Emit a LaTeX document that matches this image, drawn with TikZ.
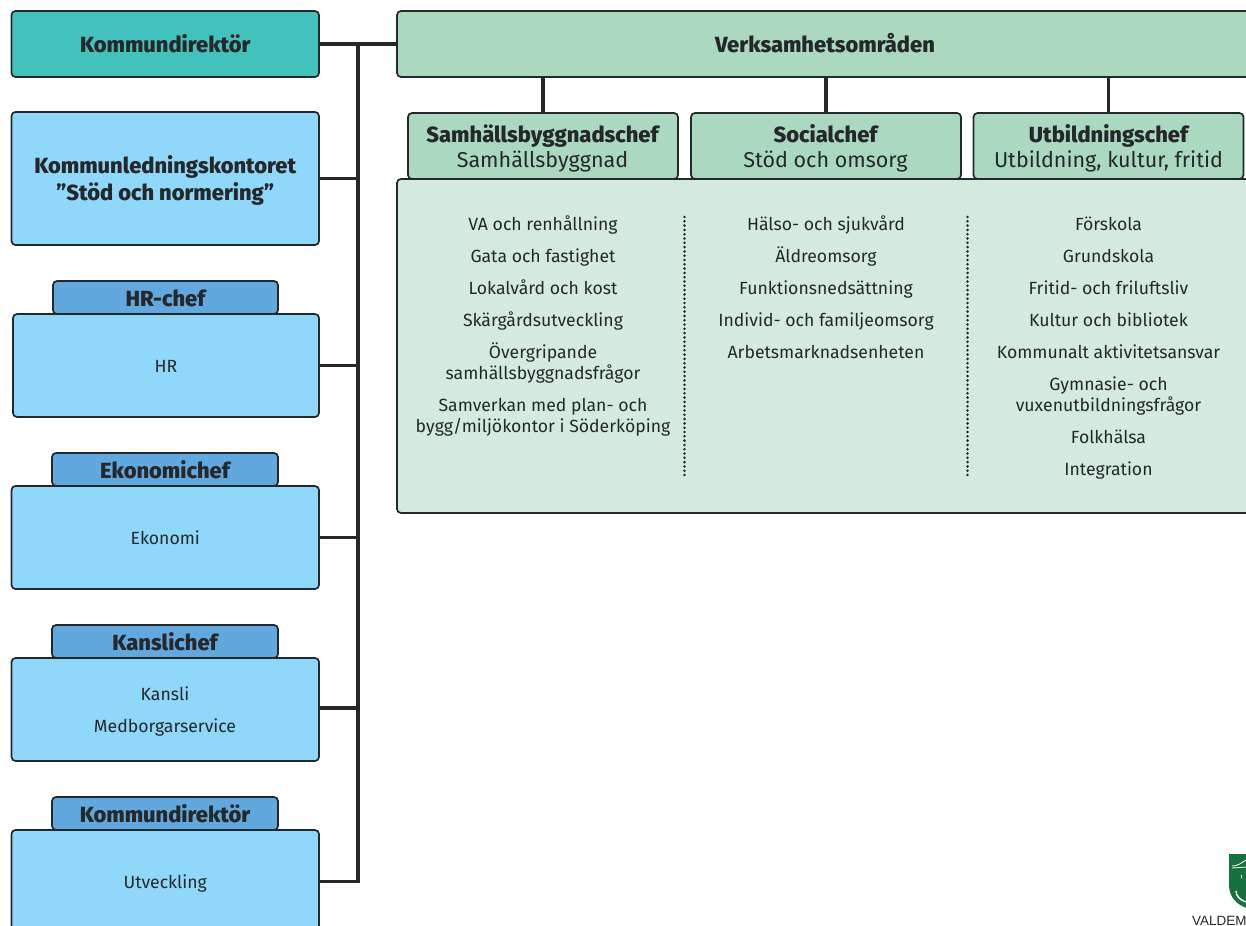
\documentclass[tikz,border=0pt]{standalone}
\usepackage{fontspec}
\setmainfont[BoldFont={Fira Sans ExtraBold}]{Fira Sans}
\newfontfamily\logofont{Liberation Sans}
\definecolor{ink}{HTML}{25282A}
\definecolor{teal}{HTML}{43C1BC}
\definecolor{sky}{HTML}{8FD8FA}
\definecolor{tabblue}{HTML}{61A8DE}
\definecolor{midgreen}{HTML}{ABD9BF}
\definecolor{palegreen}{HTML}{D4EADE}
\definecolor{shield}{HTML}{17703F}
\newcommand{\st}{\vphantom{Åg}}
\tikzset{
  x=1bp,y=-1bp,
  wh/.style 2 args={minimum width=#1bp,minimum height=#2bp},
  boxbase/.style={draw=ink,line width=1.7bp,rounded corners=4bp,inner sep=0pt,text=ink,align=center},
  kdbox/.style={boxbase,fill=teal},
  bluebox/.style={boxbase,fill=sky},
  bluetab/.style={boxbase,fill=tabblue},
  greenbox/.style={boxbase,fill=midgreen},
  palebox/.style={boxbase,fill=palegreen},
  head/.style={font=\fontsize{22}{26}\selectfont\bfseries},
  subhead/.style={font=\fontsize{21.6}{26}\selectfont},
  item/.style={text=ink,align=center,inner sep=0pt,font=\fontsize{17.7}{21}\selectfont},
  link/.style={draw=ink,line width=3.2bp},
  dots/.style={draw=ink,line width=2.8bp,line cap=round,dash pattern=on 0bp off 4.3bp},
  crestline/.style={draw=white,line width=0.8bp},
}
\begin{document}
\begin{tikzpicture}
\useasboundingbox (0,0) rectangle (1246,926);
\clip (0,0) rectangle (1246,926);
% left column
\node[kdbox,head,wh={307.5}{66}] (kd) at (165.25,44) {\st Kommundirektör};
\node[bluebox,head,wh={307.5}{133}] (kl) at (165.25,178.5) {\st Kommunledningskontoret\\\st ”Stöd och normering”};
\node[bluetab,head,wh={225}{33}] (hrt) at (165.5,297.5) {\st HR-chef};
\node[bluebox,wh={306}{103}] (hr) at (166,365.5) {};
\node[item] (hrx) at (hr.center) {\st HR};
\node[bluetab,head,wh={226}{33}] (ekt) at (165,469.5) {\st Ekonomichef};
\node[bluebox,wh={307.5}{103}] (ek) at (165.25,537.5) {};
\node[item] (ekx) at (ek.center) {\st Ekonomi};
\node[bluetab,head,wh={226}{33}] (kat) at (165,641.5) {\st Kanslichef};
\node[bluebox,wh={307.5}{103}] (ka) at (165.25,709.5) {};
\node[item] (kax1) at (165,694) {\st Kansli};
\node[item] (kax2) at (165,726) {\st Medborgarservice};
\node[bluetab,head,wh={226}{33}] (kut) at (165,813.5) {\st Kommundirektör};
\node[bluebox,wh={307.5}{103}] (ku) at (165.25,881.5) {};
\node[item] (kux) at (ku.center) {\st Utveckling};
% right side
\node[greenbox,head,wh={880}{66}] (vo) at (837,44) {};
\node[head,text=ink,inner sep=0pt] (vox) at (825,44) {\st Verksamhetsområden};
\node[greenbox,wh={270}{66}] (t1) at (543,146) {};
\node[greenbox,wh={270}{66}] (t2) at (826,146) {};
\node[greenbox,wh={270}{66}] (t3) at (1108.5,146) {};
\node[palebox,wh={880}{334}] (panel) at (837,346) {};
\node[head,text=ink,inner sep=0pt] (t1a) at (542.5,134) {\st Samhällsbyggnadschef};
\node[subhead,text=ink,inner sep=0pt] (t1b) at (542.5,159) {\st Samhällsbyggnad};
\node[head,text=ink,inner sep=0pt] (t2a) at (825.5,134) {\st Socialchef};
\node[subhead,text=ink,inner sep=0pt] (t2b) at (825.5,159) {\st Stöd och omsorg};
\node[head,text=ink,inner sep=0pt] (t3a) at (1108.5,134) {\st Utbildningschef};
\node[subhead,text=ink,inner sep=0pt] (t3b) at (1108.5,159) {\st Utbildning, kultur, fritid};
% column 1
\node[item] (a1) at (543,224) {\st VA och renhållning};
\node[item] (a2) at (543,256) {\st Gata och fastighet};
\node[item] (a3) at (543,288) {\st Lokalvård och kost};
\node[item] (a4) at (543,319.5) {\st Skärgårdsutveckling};
\node[item] (a5) at (543,362) {\st Övergripande\\\st samhällsbyggnadsfrågor};
\node[item] (a6) at (543,415.5) {\st Samverkan med plan- och\\\st bygg/miljökontor i Söderköping};
% column 2
\node[item] (b1) at (826,224) {\st Hälso- och sjukvård};
\node[item] (b2) at (826,256) {\st Äldreomsorg};
\node[item] (b3) at (826,288) {\st Funktionsnedsättning};
\node[item] (b4) at (826,319.5) {\st Individ- och familjeomsorg};
\node[item] (b5) at (826,351.5) {\st Arbetsmarknadsenheten};
% column 3
\node[item] (c1) at (1108.5,224) {\st Förskola};
\node[item] (c2) at (1108.5,256) {\st Grundskola};
\node[item] (c3) at (1108.5,288) {\st Fritid- och friluftsliv};
\node[item] (c4) at (1108.5,319.5) {\st Kultur och bibliotek};
\node[item] (c5) at (1108.5,351.5) {\st Kommunalt aktivitetsansvar};
\node[item] (c6) at (1108.5,394.5) {\st Gymnasie- och\\\st vuxenutbildningsfrågor};
\node[item] (c7) at (1108.5,437) {\st Folkhälsa};
\node[item] (c8) at (1108.5,469) {\st Integration};
% dotted separators
\coordinate (d1a) at (684.5,217); \coordinate (d1b) at (684.5,476);
\coordinate (d2a) at (967.5,217); \coordinate (d2b) at (967.5,476);
\draw[dots] (d1a) -- (d1b);
\draw[dots] (d2a) -- (d2b);
% connectors
\draw[link] (kd.east) -- (vo.west);
\coordinate (sp0) at (358,44);
\coordinate (sp1) at (358,881.5);
\draw[link,line cap=rect] (sp0) -- (sp1);
\draw[link] (kl.east) -- (kl.east -| sp0);
\draw[link] (hr.east) -- (hr.east -| sp0);
\draw[link] (ek.east) -- (ek.east -| sp0);
\draw[link] (ka.east |- 0,708) -- (sp0 |- 0,708);
\draw[link] (ku.east) -- (ku.east -| sp0);
\draw[link] (vo.south -| t1.north) -- (t1.north);
\draw[link] (vo.south -| t2.north) -- (t2.north);
\draw[link] (vo.south -| t3.north) -- (t3.north);
% crest, clipped by the page edge
\fill[shield] (1229,854) -- (1250,854) -- (1250,909) .. controls (1238,906) and (1229,898) .. (1229,885) -- cycle;
\draw[crestline] (1232,866) .. controls (1237,866) and (1240,864) .. (1246,860);
\draw[crestline] (1232,868) -- (1246,867);
\draw[crestline] (1241,875) -- (1241,878);
\draw[crestline,line width=1.4bp] (1236,891) .. controls (1236,896) and (1240,900) .. (1246,902);
\node[anchor=base west,inner sep=0pt,text=ink,font=\logofont\fontsize{13.5}{16}\selectfont] (vald) at (1192,925) {VALDEM};
\end{tikzpicture}
\end{document}
